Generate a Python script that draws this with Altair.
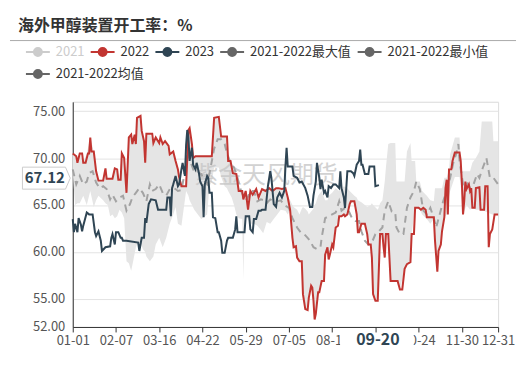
import altair as alt
import pandas as pd

TITLE = "海外甲醇装置开工率：%"
WATERMARK = "紫金天风期货"
SERIES = ["2021", "2022", "2023", "2021-2022最大值", "2021-2022最小值", "2021-2022均值"]
COLORS = ["#cccccc", "#c23531", "#2f4554", "#666666", "#666666", "#666666"]

# day-of-year index (0 = 01-01)
d22 = [0, 3, 4, 6, 8, 9, 11, 13, 14, 15, 16, 18, 20, 22, 26, 28, 29, 34, 36, 38, 39, 41, 42, 44, 46, 48, 50, 51, 53, 54,
       55, 58, 59, 61, 62, 63, 68, 69, 71, 74, 75, 77, 79, 82, 83, 86, 88, 90, 91, 93, 97, 99, 100, 102, 103, 105, 119,
       121, 125, 127, 132, 133, 135, 137, 140, 142, 145, 146, 148, 150, 152, 154, 157, 159, 162, 165, 168, 171, 174,
       176, 179, 182, 184, 186, 188, 189, 191, 192, 194, 196, 197, 199, 201, 202, 204, 205, 206, 207, 208, 210, 211,
       213, 215, 216, 218, 219, 220, 222, 223, 225, 227, 228, 230, 232, 233, 235, 237, 238, 241, 243, 244, 245, 247,
       250, 252, 253, 255, 256, 257, 259, 261, 262, 263, 265, 266, 267, 268, 270, 272, 278, 280, 282, 284, 286, 289,
       290, 292, 293, 296, 298, 300, 302, 303, 309, 310, 312, 313, 315, 316, 318, 319, 320, 321, 322, 324, 325, 327,
       331, 332, 333, 334, 335, 336, 337, 339, 340, 341, 342, 344, 345, 348, 349, 352, 353, 355, 356, 357, 359, 361, 364]
v22 = [70.5, 70.2, 69.5, 70.5, 70.5, 69.5, 69.5, 70.5, 70.5, 72.2, 70.7, 70.7, 68.6, 67.6, 67.6, 68.9, 67.8, 67.8, 68.9,
       68.8, 67.7, 67.7, 70.5, 70.0, 66.3, 72.2, 72.5, 71.5, 72.5, 71.5,
       74.3, 74.5, 72.9, 71.8, 69.5, 72.6, 72.6, 71.6, 72.2, 71.6, 72.2, 71.5, 71.8, 71.3, 70.4, 70.7, 69.7, 68.8, 68.0,
       67.0, 67.0, 73.0, 73.2, 71.5, 70.0, 70.2, 70.2,
       74.3, 74.4, 72.3, 72.3, 69.7, 69.7, 68.4, 68.3, 66.5, 66.5, 65.6, 66.5, 64.5, 66.5, 66.1, 66.7, 65.8, 66.7, 66.5,
       66.8, 66.5, 66.8,
       66.8, 66.7, 66.8, 65.8, 64.5, 61.5, 60.5, 60.6, 59.4, 59.0, 59.0, 55.5, 53.9, 53.8, 55.1, 56.4, 56.2, 54.8, 52.8,
       53.4, 55.7, 55.7,
       56.9, 56.9, 59.7, 60.5, 59.2, 59.7, 60.8, 60.5, 62.6, 62.8, 63.8, 63.8, 64.0, 63.8, 64.0, 65.1, 65.4, 65.4, 64.0,
       62.1, 62.1, 63.0,
       63.0, 61.9, 60.8, 60.8, 59.4, 55.5, 54.8, 54.8, 58.3, 61.9, 61.9, 60.5, 59.4, 61.9, 61.9, 56.9, 56.9, 56.0, 56.0,
       58.2, 58.7, 58.9,
       61.9, 61.9, 64.7, 64.7, 64.5, 64.7, 64.5, 63.7, 63.7, 61.2, 57.9, 60.1, 60.8, 62.2, 63.7, 66.8, 67.7, 64.0, 68.8,
       68.8, 69.7, 70.6,
       70.6, 69.7, 67.4, 64.0, 65.4, 67.5, 66.7, 67.2, 66.5, 66.8, 64.7, 64.7, 66.8, 66.9, 64.5, 64.5, 67.0, 67.0, 60.5,
       61.9, 62.4, 64.0, 64.0]

d23 = [0, 1, 2, 4, 5, 7, 8, 9, 12, 14, 17, 19, 20, 22, 24, 25, 28, 32, 33, 34, 36, 37, 39, 41, 42, 43, 46, 56, 57, 59,
       61, 62, 63, 65, 67, 71, 73, 80, 81, 83, 84, 85, 86, 88, 90, 91, 93, 94, 96, 97, 98, 99, 100, 102, 103, 105, 106,
       108, 109, 111, 112, 113, 115, 116, 117, 119, 120, 122, 124, 125, 127, 128, 130, 132, 133, 137, 139, 140, 141,
       147, 148, 151, 152, 154, 155, 157, 159, 161, 162, 165, 167, 169, 170, 172, 174, 175, 177, 179, 181, 182, 183,
       184, 188, 189, 192, 194, 196, 199, 201, 203, 205, 206, 208, 209, 211, 212, 213, 215, 216, 218, 219, 221, 223,
       225, 228, 229, 230, 232, 233, 235, 238, 240, 241, 243, 245, 246, 247, 248, 250, 253, 254, 258, 259, 262]
v23 = [63.5, 62.1, 63.0, 62.1, 63.6, 62.9, 62.2, 62.8, 64.2, 64.0, 64.0, 62.1, 61.7, 62.2, 61.2, 60.1, 60.5, 60.6, 61.5,
       61.9, 60.8, 62.1, 62.1, 61.5, 61.5, 61.2, 61.2, 61.0, 60.1, 61.5,
       61.5, 63.6, 63.1, 65.1, 65.6, 65.5, 64.5, 64.5, 65.8, 65.8, 63.8, 66.8, 67.2, 68.1, 67.0, 67.2, 68.8, 69.5, 68.1,
       71.4, 73.0, 72.2, 69.7, 71.1, 69.3, 68.8, 69.5,
       68.4, 67.5, 67.0, 63.7, 67.2, 68.1, 67.9, 66.3, 66.3, 63.7, 63.6, 62.1, 62.1, 61.2, 59.9, 59.9, 61.2, 61.5, 61.5,
       62.4, 63.8, 62.1,
       62.1, 63.8, 63.8, 62.4, 62.1, 63.5, 63.5, 64.4, 64.4, 64.5, 64.5, 67.0, 68.6, 67.9, 65.1, 64.8, 65.8, 66.3, 65.8,
       66.5, 69.1, 71.1,
       69.1, 69.1, 68.1, 67.9, 67.4, 67.5, 66.8, 66.0, 64.8, 64.8, 66.0, 67.5, 69.5, 67.9, 66.7, 67.7, 66.3, 66.5, 65.8,
       67.0, 66.8, 67.2,
       67.2, 66.8, 68.6, 66.8, 65.8, 64.7, 68.6, 68.6, 68.4, 68.1, 69.3, 69.7, 70.9, 69.3, 69.3, 68.3, 68.3, 69.1, 69.1,
       67.0, 67.12]

dmean = [0, 3, 6, 9, 12, 14, 17, 20, 23, 26, 29, 32, 34, 37, 40, 43, 46, 49, 51, 54, 57, 60, 63, 66, 68, 71, 74, 77, 80,
         83, 86, 88, 90, 93, 95, 98, 101, 104, 107, 110, 113, 115, 118, 121, 124, 127, 130, 132, 135, 138, 141, 144,
         147, 149, 152, 155, 158, 161, 164, 166, 169, 172, 175, 178, 181, 185, 188, 192, 195, 198, 201, 203, 206, 209,
         212, 213, 216, 219, 222, 225, 228, 230, 233, 236, 239, 242, 245, 247, 250, 253, 256, 259, 262, 265, 267, 270,
         273, 276, 277, 280, 283, 286, 289, 292, 294, 297, 300, 303, 306, 309, 311, 314, 317, 320, 323, 326, 328, 330,
         331, 334, 337, 340, 343, 346, 348, 351, 354, 357, 360, 364]
vmean = [68.8, 67.2, 68.1, 67.2, 67.5, 68.4, 68.6, 67.4, 66.8, 67.0, 66.7, 65.6, 66.1, 65.4, 65.8, 66.0, 64.4, 65.1,
         65.8, 66.3, 66.8, 66.3, 65.4, 67.2, 66.5, 66.7, 67.2, 66.3, 66.0,
         66.7, 66.8, 66.7, 66.5, 66.6, 67.9, 70.7, 69.5, 68.5, 68.5, 68.3, 67.5, 67.2, 69.0, 71.0, 72.0, 72.0, 71.5, 70.5,
         69.5, 69.0, 67.9, 66.5,
         65.7, 65.6, 66.5, 66.5, 65.4, 65.6, 65.5, 65.2, 65.6, 65.4, 65.4, 65.5, 65.0, 64.7, 63.6, 62.6, 62.1, 61.9, 61.5,
         61.2, 60.5, 60.3,
         60.5, 61.5, 63.6, 63.8, 64.0, 64.2, 65.4, 64.4, 64.7, 64.4, 63.6, 63.3, 63.3, 62.2, 61.2, 60.8, 61.0, 61.9, 62.2,
         62.6, 64.4, 65.4,
         64.3, 64.2, 62.6, 61.9, 61.9, 64.7, 65.8, 66.5, 67.5, 66.7, 64.4, 64.0, 64.7, 63.6, 62.6, 64.0, 65.4, 66.5, 67.9,
         69.7, 70.4, 71.5,
         69.7, 67.2, 67.5, 66.8, 67.2, 68.3, 67.9, 69.0, 70.0, 67.9, 67.9, 67.2]

band_day = [0, 2, 4, 6, 9, 12, 15, 18, 20, 22, 26, 28, 30, 32, 34, 36, 38, 40, 42, 44, 46, 48, 50, 52, 54, 55, 58, 60,
            62, 63, 66, 69, 71, 74, 77, 80, 83, 86, 88, 90, 93, 97, 99, 100, 102, 104, 110, 115, 117, 119, 121, 125,
            127, 130, 132, 133, 136, 138, 140, 142, 145, 146, 147, 150, 152, 155, 158, 160, 163, 166, 169, 172, 175,
            178, 182, 184, 186, 188, 189, 192, 194, 196, 197, 199, 201, 202, 204, 206, 207, 208, 210, 213, 215, 216,
            218, 219, 222, 225, 228, 232, 235, 237, 241, 243, 244, 247, 250, 252, 255, 256, 257, 261, 262, 263, 265,
            267, 268, 270, 272, 276, 277, 280, 284, 286, 289, 290, 293, 294, 297, 299, 303, 306, 309, 310, 312, 313,
            316, 318, 320, 322, 323, 327, 331, 332, 333, 334, 337, 340, 342, 345, 348, 350, 355, 359, 360, 364]
band_lo = [68.5, 65.0, 65.2, 65.2, 66.0, 65.0, 66.5, 64.8, 65.5, 66.0, 65.5, 65.2, 65.0, 63.8, 64.0, 63.6, 63.8, 64.5,
           64.2, 63.6, 59.0, 58.8, 58.0, 59.2, 60.5, 60.8, 61.0, 60.3,
           60.0, 59.5, 59.0, 59.5, 60.8, 61.5, 60.5, 61.5, 63.0, 64.0, 64.8, 63.0, 62.8, 66.5, 66.0, 65.5, 65.0, 64.5,
           63.5, 64.0, 67.0, 67.5, 69.0, 69.0,
           68.0, 67.0, 66.8, 66.5, 65.8, 65.0, 64.0, 63.6, 63.5, 57.0, 63.8, 63.5, 63.0, 63.0, 62.8, 62.5, 62.0, 63.2,
           63.0, 63.5, 64.0,
           64.5, 64.4, 64.0, 64.5, 61.5, 60.5, 59.4, 59.0, 59.0, 55.5, 53.9, 53.8, 55.1, 56.4, 54.8, 52.8, 53.4, 55.7,
           56.9, 56.9, 59.7,
           60.5, 59.2, 60.8, 62.6, 63.8, 64.0, 64.0, 65.1, 65.4, 64.0, 62.1, 63.0, 63.0, 61.9, 60.8, 59.4, 55.5, 54.8,
           58.3, 61.9, 61.9,
           59.4, 61.9, 61.9, 56.9, 56.9, 56.9, 56.0, 58.2, 58.7, 58.9, 61.9, 64.7, 64.7, 64.5, 64.0, 63.5, 63.0, 63.5,
           61.2, 57.9, 60.1,
           62.2, 63.7, 64.0, 66.0, 66.5, 68.0, 68.0, 67.0, 66.0, 64.0, 65.0, 64.5, 64.7, 64.5, 64.5, 64.5, 64.2, 64.0,
           64.0, 64.0]
band_hi = [70.5, 70.3, 69.5, 70.5, 69.5, 70.5, 72.2, 70.7, 68.6, 67.6, 67.6, 68.9, 67.8, 67.8, 67.8, 68.9, 68.8, 67.7,
           70.5, 70.0, 66.3, 72.2, 72.5, 72.0, 71.5, 74.3, 74.5, 72.5,
           69.5, 72.6, 72.6, 71.6, 72.2, 71.6, 71.5, 71.6, 70.4, 70.7, 69.7, 68.8, 67.0, 67.0, 73.0, 73.2, 71.5, 70.2,
           70.2, 70.2, 70.2, 70.2, 74.3, 74.4,
           72.3, 72.3, 72.3, 69.7, 69.7, 68.4, 68.3, 66.5, 66.5, 65.6, 66.5, 64.5, 66.5, 66.3, 66.2, 65.8, 66.6, 66.6,
           66.8, 66.6, 66.8,
           66.7, 66.8, 66.0, 65.5, 65.0, 64.8, 64.5, 64.0, 64.6, 64.8, 64.6, 64.3, 64.0, 64.3, 64.6, 65.0, 65.2, 66.0,
           66.5, 65.8, 65.5,
           65.5, 66.0, 66.3, 66.8, 66.5, 67.0, 66.8, 66.5, 66.0, 65.8, 65.5, 65.3, 65.0, 64.8, 65.0, 65.2, 65.0, 64.5,
           64.8, 65.2, 65.5,
           67.5, 69.0, 71.5, 71.6, 71.6, 67.5, 67.5, 67.5, 70.7, 71.6, 69.7, 69.7, 67.5, 67.5, 66.5, 66.0, 65.5, 65.4,
           66.8, 66.8, 66.8,
           66.8, 67.9, 67.9, 68.8, 70.4, 72.2, 72.2, 69.7, 68.6, 68.6, 68.6, 68.6, 69.5, 70.0, 70.7, 73.9, 73.9, 73.9,
           71.8, 71.8]

x_ticks = [0, 37, 74, 111, 148, 185, 222, 259, 296, 333, 364]
y_ticks = [52, 55, 60, 65, 70, 75, 76]
pointer_day = 262
pointer_value = 67.12

FONT = "Noto Sans CJK SC"

df_lines = pd.concat([
    pd.DataFrame({"day": d22, "value": v22, "series": "2022"}),
    pd.DataFrame({"day": d23, "value": v23, "series": "2023"}),
])
df_mean = pd.DataFrame({"day": dmean, "value": vmean})
df_band = pd.DataFrame({"day": band_day, "lo": band_lo, "hi": band_hi})

xscale = alt.Scale(domain=[0, 364], nice=False, zero=False)
yscale = alt.Scale(domain=[52, 76], nice=False, zero=False)

x_axis = alt.Axis(values=x_ticks, labelExpr="timeFormat(datetime(2022, 0, 1 + datum.value), '%m-%d')",
                  grid=False, domainColor="#333333", tickColor="#333333", tickSize=5, labelColor="#555555",
                  labelFontSize=13, labelPadding=3, labelOverlap=False, labelFlush=False, title=None,
                  labelFont=FONT)
y_axis = alt.Axis(values=y_ticks, labelExpr="datum.value == 76 ? '' : format(datum.value, '.2f')",
                  grid=True, gridColor="#e3e3e3", domainColor="#333333", ticks=False, labelPadding=8,
                  labelOverlap=False, labelFlush=False,
                  labelColor="#555555", labelFontSize=13, title=None, labelFont=FONT)


def X(field):
    return alt.X(field, scale=xscale, axis=x_axis)


def Y(field):
    return alt.Y(field, scale=yscale, axis=y_axis)


band = alt.Chart(df_band).mark_area(color="#e5e5e5", opacity=1).encode(
    x=X("day:Q"), y=Y("lo:Q"), y2="hi:Q",
)

watermark = alt.Chart(pd.DataFrame({"t": [WATERMARK]})).mark_text(
    fontSize=24, color="#c4c4c4", opacity=0.75, font=FONT, align="center", baseline="middle"
).encode(x=alt.value(194), y=alt.value(74), text="t:N")

mean = alt.Chart(df_mean).mark_line(color="#a3a3a3", strokeWidth=2, strokeDash=[7, 5]).encode(
    x=X("day:Q"), y=Y("value:Q")
)

legend_path = "M-1,0 L1,0 M0.33,0 A0.33,0.33 0 1,1 -0.33,0 A0.33,0.33 0 1,1 0.33,0 Z"
color_expr = " : ".join(f"datum.value === '{s}' ? '{c}'" for s, c in zip(SERIES[:5], COLORS[:5])) + " : '#666666'"

lines = alt.Chart(df_lines).mark_line(strokeWidth=2).encode(
    x=X("day:Q"),
    y=Y("value:Q"),
    color=alt.Color("series:N", scale=alt.Scale(domain=SERIES[:5], range=COLORS[:5]),
                    sort=SERIES[:5],
                    legend=alt.Legend(
                        title=None, orient="none", legendX=-48, legendY=-63, direction="horizontal",
                        columns=5, columnPadding=2, padding=0,
                        symbolType=legend_path, symbolSize=576, symbolStrokeWidth=2, labelOffset=5,
                        symbolOpacity=1,
                        symbolFillColor={"expr": color_expr},
                        symbolStrokeColor={"expr": color_expr},
                        labelFontSize=13, labelFont=FONT, labelLimit=200,
                        labelColor={"expr": "datum.label === '2021' ? '#cccccc' : '#333333'"},
                    )),
)

# a data-free layer that only carries the second legend row (the mean entry)
mean_legend = alt.Chart(pd.DataFrame({"series2": [SERIES[5]]})).mark_line(strokeWidth=2).encode(
    color=alt.Color("series2:N", scale=alt.Scale(domain=[SERIES[5]], range=[COLORS[5]]),
                    legend=alt.Legend(
                        title=None, orient="none", legendX=-48, legendY=-41, padding=0,
                        symbolType=legend_path, symbolSize=576, symbolStrokeWidth=2, labelOffset=5,
                        symbolOpacity=1, symbolFillColor=COLORS[5], symbolStrokeColor=COLORS[5],
                        labelFontSize=13, labelFont=FONT, labelLimit=200, labelColor="#333333",
                    )),
)

df_ptr = pd.DataFrame({"day": [pointer_day], "value": [pointer_value],
                       "vlabel": [f"{pointer_value:.2f}"], "dlabel": ["09-20"]})
box_path = "M-1,-0.46 L0.8,-0.46 L1,0 L0.8,0.46 L-1,0.46 Z"
ybox = alt.Chart(df_ptr).mark_point(shape=box_path, size=2304, filled=True, fill="white", stroke="#cccccc",
                                    strokeWidth=1, opacity=1, yOffset=-7).encode(
    x=alt.value(-26.5), y=Y("value:Q"))
ytext = alt.Chart(df_ptr).mark_text(fontSize=15, fontWeight="bold", color="#2f4554", font=FONT,
                                    align="center", baseline="middle", yOffset=-7).encode(
    x=alt.value(-28), y=Y("value:Q"), text="vlabel:N")
xbox_path = "M-1,-0.24 L1,-0.24 L1,0.24 L-1,0.24 Z"
xbox = alt.Chart(df_ptr).mark_point(shape=xbox_path, size=5476, filled=True, fill="white", strokeWidth=0,
                                    opacity=1, xOffset=-2).encode(
    x=X("day:Q"), y=alt.value(241))
xtext = alt.Chart(df_ptr).mark_text(fontSize=16, fontWeight="bold", color="#2f4554", font=FONT,
                                    align="center", baseline="middle", xOffset=-1).encode(
    x=X("day:Q"), y=alt.value(239), text="dlabel:N")

title = alt.Chart(pd.DataFrame({"t": [TITLE]})).mark_text(
    align="left", baseline="middle", fontSize=16, fontWeight="bold", font=FONT, color="#333333"
).encode(x=alt.value(-55), y=alt.value(-76.5), text="t:N")
sep = alt.Chart(pd.DataFrame({"a": [0]})).mark_rule(color="#aaaaaa", strokeWidth=1).encode(
    x=alt.value(-63), x2=alt.value(445), y=alt.value(-61.5))

chart = alt.layer(band, watermark, mean, lines, mean_legend, ybox, ytext, xbox, xtext, title, sep).resolve_scale(
    color="independent"
).properties(
    width=427, height=226,
    autosize=alt.AutoSizeParams(type="none"),
    padding={"left": 65, "top": 93.5, "right": 25, "bottom": 40},
).configure_view(stroke=None).configure(font=FONT).configure_axis(labelOverlap=False, labelFlush=False)

chart.save("out.html", embed_options={"renderer": "svg", "actions": False})
